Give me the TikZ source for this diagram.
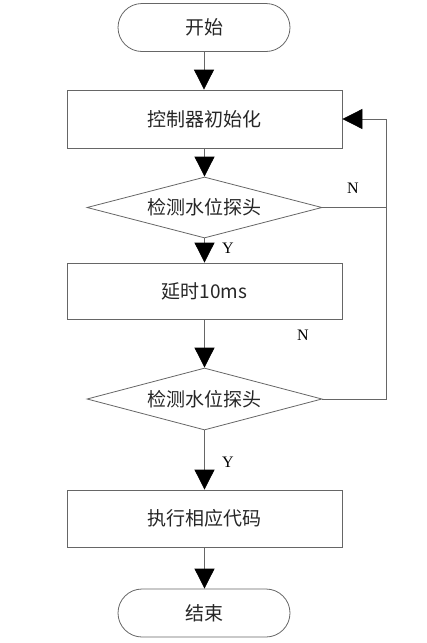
\documentclass[tikz,border=0pt]{standalone}
\usepackage{fontspec}
\setmainfont{Noto Sans CJK SC}
\newfontfamily\latinserif{Liberation Serif}
\usetikzlibrary{shapes.geometric,arrows.meta}
\tikzset{
  x=1pt,y=-1pt,
  every node/.style={font=\fontsize{19}{21}\selectfont, text=black!85},
  lineclr/.style={draw=black!60, line width=0.8pt},
  term/.style={lineclr, rectangle, rounded corners=24pt, minimum width=172pt, minimum height=48pt, inner sep=0pt},
  procbox/.style={lineclr, rectangle, minimum width=275pt, inner sep=0pt},
  decision/.style={lineclr, diamond, aspect=3.85, minimum width=235pt, minimum height=61pt, inner sep=0pt},
  conn/.style={lineclr, -{Triangle[width=20pt,length=20pt,fill=black,color=black]}},
  plainconn/.style={lineclr},
  yn/.style={font=\latinserif\fontsize{16}{18}\selectfont, text=black}
}
\begin{document}
\begin{tikzpicture}
\useasboundingbox (0,0) rectangle (427,643);
\node[term] (start) at (204,27.5) {开始};
\node[procbox, minimum height=58pt] (init) at (204.5,119) {控制器初始化};
\node[decision] (d1) at (204.5,207.5) {检测水位探头};
\node[procbox, minimum height=56pt] (delay) at (204.5,291) {延时10ms};
\node[decision, minimum height=62pt] (d2) at (204.5,399) {检测水位探头};
\node[procbox, minimum height=57pt] (exec) at (204.5,518.5) {执行相应代码};
\node[term] (stop) at (204,613) {结束};
\coordinate (r1) at (386,207.5);
\coordinate (r0) at (386,119);
\coordinate (r2) at (386,399);
\draw[conn] (start) -- (start|-init.north);
\draw[conn] (init) -- (d1.north);
\draw[conn] (d1.south) -- (delay.north);
\draw[conn] (delay) -- (d2.north);
\draw[conn] (d2.south) -- (exec.north);
\draw[conn] (exec) -- (stop.north-|exec);
\draw[plainconn] (d1.east) -- (r1);
\draw[conn] (r1) -- (r0) -- (init.east);
\draw[plainconn] (d2.east) -- (r2) -- (r1);
\node[yn] (n1) at (353,188) {N};
\node[yn] (n2) at (303,335) {N};
\node[yn] (y1) at (228,248) {Y};
\node[yn] (y2) at (228,462) {Y};
\end{tikzpicture}
\end{document}
